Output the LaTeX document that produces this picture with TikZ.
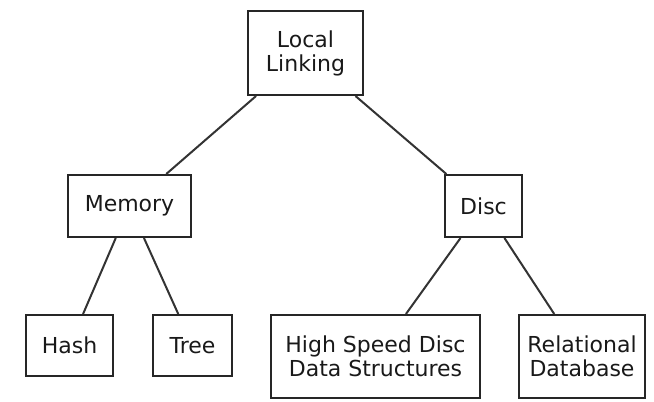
\documentclass[tikz,border=0pt]{standalone}
\usepackage{fontspec}
\setmainfont{DejaVu Sans}
\begin{document}
\begin{tikzpicture}[x=1bp,y=-1bp,
  box/.style={draw=black!85, line width=2bp, rectangle, inner sep=0pt, align=center,
    font=\fontsize{22bp}{24bp}\selectfont, text=black!90},
  link/.style={draw=black!80, line width=2bp}]
\useasboundingbox (0,0) rectangle (654,401);
\node[box, minimum width=115bp, minimum height=84bp] (ll) at (305.5,53) {Local\\Linking};
\node[box, minimum width=123bp, minimum height=62bp] (mem) at (129.5,206) {Memory};
\node[box, minimum width=77bp, minimum height=62bp] (disc) at (483.5,206) {Disc};
\node[box, minimum width=87bp, minimum height=61bp] (hash) at (69.5,345.5) {Hash};
\node[box, minimum width=79bp, minimum height=61bp] (tree) at (192.5,345.5) {Tree};
\node[box, minimum width=209bp, minimum height=83bp] (hs) at (375.5,356.5) {High Speed Disc\\Data Structures};
\node[box, minimum width=126bp, minimum height=83bp] (rel) at (582,356.5) {Relational\\Database};
\draw[link] (ll) -- (mem);
\draw[link] (ll) -- (disc);
\draw[link] (mem) -- (hash);
\draw[link] (mem) -- (tree);
\draw[link] (disc) -- (hs);
\draw[link] (disc) -- (rel);
\end{tikzpicture}
\end{document}
